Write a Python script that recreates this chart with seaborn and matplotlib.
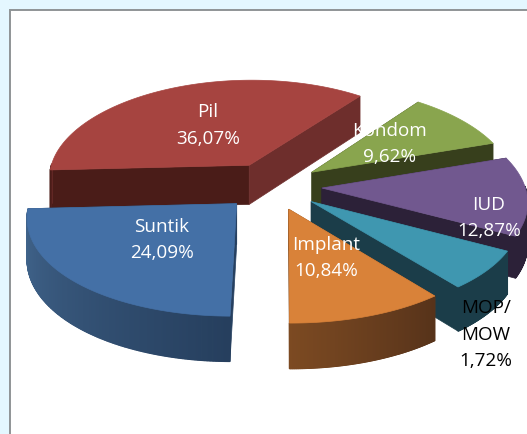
import numpy as np
import matplotlib
matplotlib.use("Agg")
import matplotlib.pyplot as plt
import seaborn as sns
from matplotlib.patches import Polygon, Rectangle

# Data
categories = ["Pil", "Suntik", "Implant", "MOP/\nMOW", "IUD", "Kondom"]
labels_pct = ["36,07%", "24,09%", "10,84%", "1,72%", "12,87%", "9,62%"]
# Drawn share of each slice; the MOP/MOW slice is visibly wider than its label says
shares = [36.07, 24.09, 10.84, 6.51, 12.87, 9.62]

# Styles
top_colors = ["#A64440", "#4470A6", "#D98239", "#3F97B0", "#71588F", "#89A54E"]
rim_from = ["#6E2E2C", "#43678F", "#7C4A22", "#1B3D49", "#2C2138", "#373F1C"]
rim_to = ["#4A1C18", "#263F5E", "#57331A", "#1B3D49", "#2C2138", "#373F1C"]
cut_start = ["#6E2E2C", "#264060", "#7C4A22", "#1B3D49", "#2C2138", "#373F1C"]
cut_end = ["#4A1C18", "#264060", "#7C4A22", "#1B3D49", "#2C2138", "#373F1C"]
text_colors = ["white", "white", "white", "black", "white", "white"]

# Layout
label_xy = [(208, 112), (162, 227), (326, 245), (486, 308), (489, 205), (390, 131)]
LINE_GAP = 26.5
START = 53.0
EXPLODE = 0.246
CX, CY, S, T = 272, 186, 203, 97.5
PX, PY = 0.12, 0.10
DEPTH = 40
DRAW_ORDER = [0, 5, 4, 3, 1, 2]

sns.set_theme(style="white")
plt.rcParams["font.family"] = ["Open Sans", "DejaVu Sans"]

fig = plt.figure(figsize=(5.27, 4.34), dpi=100, facecolor="#E4F7FF")
ax = fig.add_axes([0, 0, 1, 1])
ax.set_xlim(0, 527)
ax.set_ylim(434, 0)
ax.axis("off")
ax.add_patch(Rectangle((10, 10), 540, 460, fc="white", ec="#8F9496", lw=1.4))


def project(X, Y, down=0.0):
    X, Y = np.asarray(X, float), np.asarray(Y, float)
    q = 1 + PY * Y
    return CX + S * X / (1 + PX * Y), CY - T * Y / q + down / q


def quad(xa, ya, xb, yb, color, zorder, lw=0.5):
    pa = project(xa, ya)
    pb = project(xb, yb)
    qb = project(xb, yb, DEPTH)
    qa = project(xa, ya, DEPTH)
    ax.add_patch(Polygon([pa, pb, qb, qa], closed=True, fc=color, ec=color, lw=lw, zorder=zorder))


spans = np.cumsum([0] + shares) / np.sum(shares) * 360 + START
for z, i in enumerate(DRAW_ORDER):
    base = 10 + z * 10
    a0, a1 = spans[i], spans[i + 1]
    mid = np.radians((a0 + a1) / 2)
    ox, oy = EXPLODE * np.cos(mid), EXPLODE * np.sin(mid)
    th = np.radians(np.linspace(a0, a1, 241))
    rx, ry = ox + np.cos(th), oy + np.sin(th)

    # cut faces
    quad(ox, oy, rx[-1], ry[-1], cut_end[i], base)
    quad(ox, oy, rx[0], ry[0], cut_start[i], base + 1)

    # curved rim, only where it faces the viewer
    ramp = sns.blend_palette([rim_from[i], rim_to[i]], n_colors=len(th) - 1)
    front = np.where(np.sin((th[:-1] + th[1:]) / 2) < 0.02)[0]
    for n, k in enumerate(front):
        shade = ramp[int(n / max(len(front) - 1, 1) * (len(ramp) - 1))]
        quad(rx[k], ry[k], rx[k + 1], ry[k + 1], shade, base + 2, lw=0.9)

    # top face
    xs, ys = project(np.r_[ox, rx], np.r_[oy, ry])
    ax.add_patch(Polygon(np.c_[xs, ys], closed=True, fc=top_colors[i], ec=top_colors[i],
                         lw=0.5, zorder=base + 3))

for name, pct, (x, y), c in zip(categories, labels_pct, label_xy, text_colors):
    lines = name.split("\n") + [pct]
    for n, line in enumerate(lines):
        ax.text(x, y + n * LINE_GAP, line, color=c, fontsize=13.6,
                ha="center", va="center", zorder=200)

fig.savefig("out.png", dpi=100, facecolor=fig.get_facecolor())
